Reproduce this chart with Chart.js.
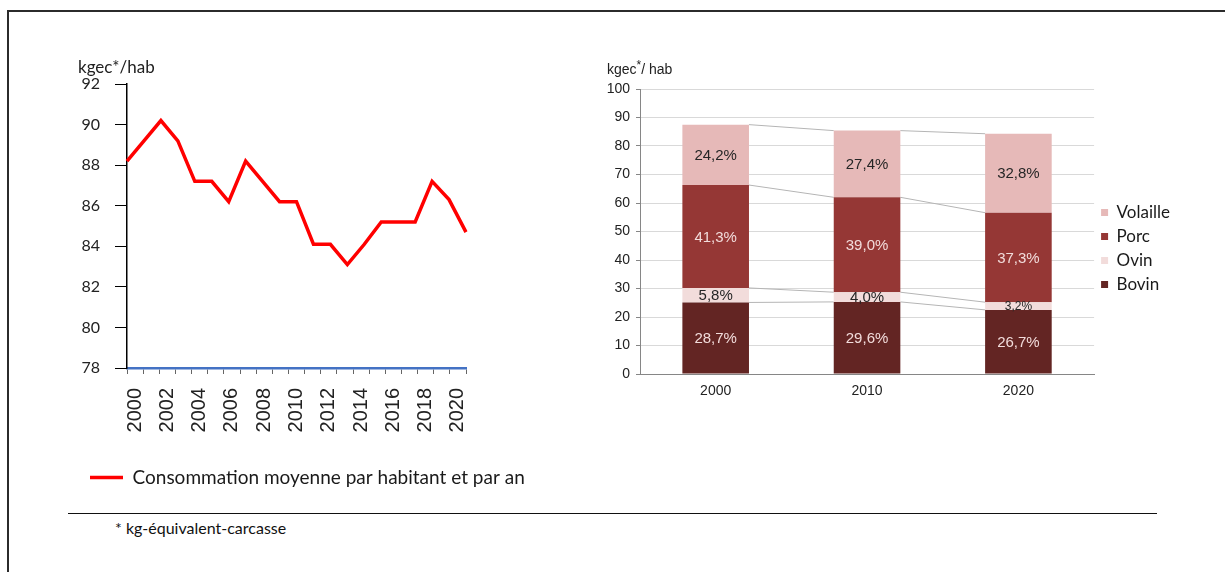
<!DOCTYPE html>
<html><head><meta charset="utf-8">
<script src="https://cdn.jsdelivr.net/npm/chart.js@4.4.1/dist/chart.umd.min.js"></script>
<style>
html,body{margin:0;padding:0;background:#fff;}
#page{position:relative;width:1225px;height:572px;overflow:hidden;background:#fff;}
#frame{position:absolute;left:7px;top:10px;width:1300px;height:700px;border-top:2px solid #2b2b2b;border-left:2px solid #2b2b2b;}
#c1{position:absolute;left:60px;top:50px;}
#c2{position:absolute;left:590px;top:50px;}
#rule{position:absolute;left:68px;top:513px;width:1089px;height:0;border-top:1.5px solid #111;}
#note{position:absolute;left:115px;top:518px;font:16px Lato, sans-serif;color:#111;line-height:19px;}
</style>
</head><body>
<div id="page">
<div id="frame"></div>
<canvas id="c1" width="480" height="447"></canvas>
<canvas id="c2" width="635" height="358"></canvas>
<div id="rule"></div>
<div id="note">* kg-équivalent-carcasse</div>
</div>
<script>
// ---- data ----
const years = ['2000','2001','2002','2003','2004','2005','2006','2007','2008','2009','2010','2011','2012','2013','2014','2015','2016','2017','2018','2019','2020'];
const consumption = [88.2, 89.2, 90.2, 89.2, 87.2, 87.2, 86.2, 88.2, 87.2, 86.2, 86.2, 84.1, 84.1, 83.1, 84.1, 85.2, 85.2, 85.2, 87.2, 86.3, 84.7];
const lineSeriesName = 'Consommation moyenne par habitant et par an';

const barYears = ['2000','2010','2020'];
const bovin    = [25.1, 25.3, 22.5];
const ovin     = [5.1, 3.4, 2.7];
const porc     = [36.1, 33.3, 31.4];
const volaille = [21.2, 23.4, 27.7];
const bovinPct    = [28.7, 29.6, 26.7];
const ovinPct     = [5.8, 4.0, 3.2];
const porcPct     = [41.3, 39.0, 37.3];
const volaillePct = [24.2, 27.4, 32.8];

// ---- plugins ----
const unitLabel = {
  id:'unitLabel',
  afterDraw(chart, args, opts){
    if(!opts || !opts.parts) return;
    const ctx = chart.ctx, a = chart.chartArea;
    ctx.save();
    ctx.fillStyle = opts.color || '#222';
    ctx.textBaseline = 'middle'; ctx.textAlign = 'left';
    let x = a.left + opts.dx, y = a.top + opts.dy;
    for(const p of opts.parts){
      ctx.font = p.font;
      ctx.fillText(p.text, x, y + (p.dy || 0));
      x += ctx.measureText(p.text).width;
    }
    ctx.restore();
  }
};
Chart.register(unitLabel);

const stackDecor = {
  id:'stackDecor',
  beforeDatasetsDraw(chart){
    const ctx = chart.ctx;
    ctx.save();
    ctx.strokeStyle = '#b5b5b5'; ctx.lineWidth = 1;
    chart.data.datasets.forEach((ds, di) => {
      const meta = chart.getDatasetMeta(di);
      for(let i = 0; i < meta.data.length - 1; i++){
        const b0 = meta.data[i], b1 = meta.data[i+1];
        ctx.beginPath();
        ctx.moveTo(b0.x + b0.width/2, b0.y);
        ctx.lineTo(b1.x - b1.width/2, b1.y);
        ctx.stroke();
      }
    });
    ctx.restore();
  },
  afterDatasetsDraw(chart){
    const ctx = chart.ctx;
    ctx.save();
    ctx.textAlign = 'center'; ctx.textBaseline = 'middle';
    chart.data.datasets.forEach((ds, di) => {
      const meta = chart.getDatasetMeta(di);
      meta.data.forEach((b, i) => {
        const h = Math.abs(b.base - b.y);
        const size = h < 9 ? 12 : 15;
        ctx.font = size + 'px "Liberation Sans", Arial, sans-serif';
        ctx.fillStyle = ds.pctColor;
        ctx.fillText(ds.pct[i].toFixed(1).replace('.', ',') + '%', b.x, (b.y + b.base)/2 + 1);
      });
    });
    ctx.restore();
  }
};

// ---- left line chart ----
new Chart(document.getElementById('c1'), {
  type:'line',
  data:{
    labels: years,
    datasets:[{
      label: lineSeriesName,
      data: consumption,
      borderColor:'#ff0000', backgroundColor:'#ff0000',
      borderWidth:3.5, pointRadius:0, tension:0,
      xAxisID:'x', yAxisID:'y'
    }]
  },
  options:{
    responsive:false, animation:false, devicePixelRatio:1,
    layout:{padding:{top:34, left:20, right:0, bottom:0}},
    plugins:{
      legend:{
        position:'bottom', align:'start',
        labels:{usePointStyle:true, pointStyle:'line', pointStyleWidth:33, padding:10,
                color:'#1a1a1a', font:{family:'Lato', size:19}}
      },
      tooltip:{enabled:false},
      unitLabel:{dx:-49, dy:-16, color:'#222',
        parts:[{text:'kgec*/hab', font:'17px Lato'}]}
    },
    scales:{
      x:{type:'category', display:false, offset:false},
      xd:{
        type:'category', labels: years, position:'bottom', offset:true,
        grid:{offset:true, drawOnChartArea:false, drawTicks:true, tickLength:6, color:'#666', lineWidth:1},
        border:{color:'#4472c4', width:2.5},
        ticks:{autoSkip:false, minRotation:90, maxRotation:90, padding:14, color:'#222',
               font:{family:'Liberation Sans', size:20},
               callback:(v, i) => (i % 2 === 0 ? years[i] : '')},
        afterFit: s => { s.height = 90; }
      },
      y:{
        min:78, max:92,
        ticks:{stepSize:2, padding:15, color:'#222', font:{family:'Lato', size:16}},
        grid:{drawOnChartArea:false, drawTicks:true, tickLength:12, color:'#000'},
        border:{color:'#000', width:1.5},
        afterFit: s => { s.width = 47; }
      },
      ypad:{
        position:'right', display:true,
        ticks:{display:false},
        grid:{display:false, drawTicks:false},
        border:{display:false},
        afterFit: s => { s.width = 74; }
      }
    }
  }
});

// ---- right stacked bar chart ----
new Chart(document.getElementById('c2'), {
  type:'bar',
  data:{
    labels: barYears,
    datasets:[
      {label:'Bovin',    data:bovin,    backgroundColor:'#632523', pct:bovinPct,    pctColor:'#f2dcdb'},
      {label:'Ovin',     data:ovin,     backgroundColor:'#f2dcdb', pct:ovinPct,     pctColor:'#262626'},
      {label:'Porc',     data:porc,     backgroundColor:'#953735', pct:porcPct,     pctColor:'#f2dcdb'},
      {label:'Volaille', data:volaille, backgroundColor:'#e6b9b8', pct:volaillePct, pctColor:'#262626'}
    ]
  },
  plugins:[stackDecor],
  options:{
    responsive:false, animation:false, devicePixelRatio:1,
    datasets:{bar:{barPercentage:0.44, categoryPercentage:1}},
    layout:{padding:{top:39, right:45, left:0, bottom:0}},
    plugins:{
      legend:{
        position:'right', reverse:true,
        labels:{boxWidth:7, boxHeight:7, padding:7, color:'#1a1a1a', font:{family:'Lato', size:17}}
      },
      tooltip:{enabled:false},
      unitLabel:{dx:-33, dy:-19, color:'#222',
        parts:[{text:'kgec', font:'14px "Liberation Sans"'},
               {text:'*', font:'12px "Liberation Sans"', dy:-4},
               {text:'/ hab', font:'14px "Liberation Sans"'}]}
    },
    scales:{
      x:{
        stacked:true,
        grid:{drawOnChartArea:false, drawTicks:false},
        border:{color:'#868686', width:1},
        ticks:{padding:9, color:'#222', font:{family:'Liberation Sans', size:14}},
        afterFit: s => { s.height = 34; }
      },
      y:{
        stacked:true, min:0, max:100,
        ticks:{stepSize:10, padding:6, color:'#222', font:{family:'Liberation Sans', size:14}},
        grid:{color:'#d9d9d9', tickLength:4, tickColor:'#868686'},
        border:{color:'#868686', width:1},
        afterFit: s => { s.width = 50; }
      }
    }
  }
});
</script>
</body></html>
